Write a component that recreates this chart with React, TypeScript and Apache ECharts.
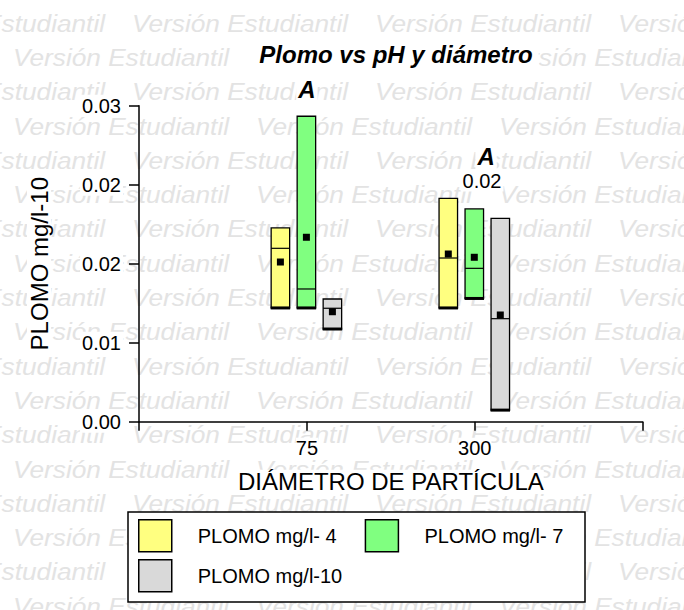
import React, { useEffect, useRef } from "react";
import * as echarts from "echarts";

const diameters = ["75", "300"];
const seriesNames = ["PLOMO mg/l- 4", "PLOMO mg/l- 7", "PLOMO mg/l-10"];
const seriesColors = ["#ffff80", "#80ff80", "#d9d9d9"];
// values per series (pH 4, 7, 10), per diameter (75, 300)
const boxLow = [
  [0.0108, 0.0108],
  [0.0108, 0.0117],
  [0.0088, 0.0011],
];
const boxHigh = [
  [0.0184, 0.0212],
  [0.029, 0.0202],
  [0.01165, 0.0193],
];
const boxMedian = [
  [0.01646, 0.01554],
  [0.0126, 0.01456],
  [0.01077, 0.00978],
];
const boxMean = [
  [0.01516, 0.01592],
  [0.01751, 0.01561],
  [0.01044, 0.01013],
];
const yTickLabels = ["0.00", "0.01", "0.02", "0.02", "0.03"];
const annotationTexts = ["A", "A", "0.02"];
const annotationX = [1, 2.067, 2.043];
const annotationY = [0.0315, 0.02513, 0.02281];

const FONT = "'Liberation Sans', Arial, sans-serif";
const groupOffsets = [-26.5, -0.5, 25.5];
const BOX_W = 18.5;

function buildWatermark() {
  const els: any[] = [];
  for (let k = 0; k < 18; k++) {
    const y = 23 + 34.3 * k;
    const start = k % 2 === 0 ? 132 : 13;
    for (let n = -1; n < 3; n++) {
      els.push({
        type: "text",
        x: start + 243 * n,
        y,
        scaleX: 1.07,
        z: -10,
        silent: true,
        style: {
          text: "Versión Estudiantil",
          fontSize: 24.5,
          fontStyle: "italic",
          fontFamily: FONT,
          fill: "#e3e3e3",
          verticalAlign: "middle",
        },
      });
    }
  }
  return els;
}

export default function App() {
  const ref = useRef<HTMLDivElement>(null);
  useEffect(() => {
    if (!ref.current) return;
    const chart = echarts.init(ref.current, null, { renderer: "svg" });

    const boxSeries = seriesNames.map((name, s) => ({
      name,
      type: "custom",
      itemStyle: { color: seriesColors[s] },
      clip: false,
      z: 3,
      data: diameters.map((_, i) => [i + 1, boxLow[s][i], boxHigh[s][i], boxMedian[s][i], boxMean[s][i]]),
      encode: { x: 0, y: [1, 2, 3, 4] },
      renderItem: (params: any, api: any) => {
        const xv = api.value(0);
        const [cx, yHigh] = api.coord([xv, api.value(2)]);
        const yLow = api.coord([xv, api.value(1)])[1];
        const yMed = api.coord([xv, api.value(3)])[1];
        const yMean = api.coord([xv, api.value(4)])[1];
        const c = cx + groupOffsets[params.seriesIndex];
        const x = c - BOX_W / 2;
        return {
          type: "group",
          children: [
            {
              type: "rect",
              shape: { x, y: yHigh, width: BOX_W, height: yLow - yHigh },
              style: { fill: seriesColors[params.seriesIndex], stroke: "#000", lineWidth: 1.3 },
            },
            {
              type: "line",
              shape: { x1: x, y1: yMed, x2: x + BOX_W, y2: yMed },
              style: { stroke: "#000", lineWidth: 1.2 },
            },
            {
              type: "line",
              shape: { x1: x - 0.5, y1: yLow, x2: x + BOX_W + 0.5, y2: yLow },
              style: { stroke: "#000", lineWidth: 3 },
            },
            {
              type: "rect",
              shape: { x: c - 3.5, y: yMean - 3.5, width: 7, height: 7 },
              style: { fill: "#000" },
            },
          ],
        };
      },
    }));

    const annotationSeries = {
      type: "scatter",
      name: "annotations",
      clip: false,
      silent: true,
      symbolSize: 1,
      itemStyle: { color: "rgba(0,0,0,0)" },
      z: 5,
      data: annotationTexts.map((t, i) => ({
        value: [annotationX[i], annotationY[i]],
        name: t,
        label: {
          show: true,
          position: "inside",
          formatter: t,
          color: "#000",
          opacity: 1,
          fontFamily: FONT,
          fontSize: t === "A" ? 24 : 20,
          fontWeight: t === "A" ? "bold" : "normal",
          fontStyle: t === "A" ? "italic" : "normal",
          backgroundColor: "#fff",
          padding: [0, 2],
        },
      })),
    };

    const option: any = {
      animation: false,
      backgroundColor: "#fff",
      textStyle: { fontFamily: FONT },
      title: {
        text: "Plomo vs pH y diámetro",
        left: 390,
        textAlign: "center",
        top: 40,
        padding: [2, 6],
        backgroundColor: "#fff",
        textStyle: {
          fontFamily: FONT,
          fontSize: 24,
          fontWeight: "bold",
          fontStyle: "italic",
          color: "#000",
        },
      },
      grid: { left: 139, right: 41.3, top: 105.7, bottom: 188.3, containLabel: false },
      xAxis: {
        type: "value",
        min: 0,
        max: 3,
        interval: 1,
        name: "DIÁMETRO DE PARTÍCULA",
        nameLocation: "middle",
        nameGap: 48,
        nameTextStyle: { fontSize: 24, color: "#000", fontFamily: FONT, backgroundColor: "#fff" },
        axisLine: { lineStyle: { color: "#000", width: 1.5 } },
        axisTick: { show: true, length: 9, lineStyle: { color: "#000", width: 1.5 } },
        axisLabel: {
          margin: 16,
          fontSize: 20,
          color: "#000",
          fontFamily: FONT,
          backgroundColor: "#fff",
          formatter: (v: number) => {
            const i = Math.round(v) - 1;
            return i >= 0 && i < diameters.length ? diameters[i] : "";
          },
        },
        splitLine: { show: false },
      },
      yAxis: {
        type: "value",
        min: 0,
        max: 0.03,
        interval: 0.0075,
        name: "PLOMO mg/l-10",
        nameLocation: "middle",
        nameGap: 88,
        nameTextStyle: { fontSize: 24, color: "#000", fontFamily: FONT, backgroundColor: "#fff" },
        axisLine: { show: true, lineStyle: { color: "#000", width: 1.5 } },
        axisTick: { show: true, length: 10, lineStyle: { color: "#000", width: 1.5 } },
        axisLabel: {
          margin: 16,
          fontSize: 20,
          color: "#000",
          fontFamily: FONT,
          backgroundColor: "#fff",
          padding: [1, 2],
          formatter: (_v: number, idx: number) => yTickLabels[idx] ?? "",
        },
        splitLine: { show: false },
      },
      legend: [
        {
          data: [seriesNames[0], seriesNames[1]],
          left: 138,
          top: 519,
          orient: "horizontal",
          icon: "rect",
          itemWidth: 33,
          itemHeight: 32,
          itemGap: 28,
          padding: 0,
          itemStyle: { borderColor: "#000", borderWidth: 1.5 },
          textStyle: { fontSize: 20, color: "#000", fontFamily: FONT, padding: [0, 0, 0, 21] },
          selectedMode: false,
          z: 6,
        },
        {
          data: [seriesNames[2]],
          left: 138,
          top: 559,
          orient: "horizontal",
          icon: "rect",
          itemWidth: 33,
          itemHeight: 32,
          padding: 0,
          itemStyle: { borderColor: "#000", borderWidth: 1.5 },
          textStyle: { fontSize: 20, color: "#000", fontFamily: FONT, padding: [0, 0, 0, 21] },
          selectedMode: false,
          z: 6,
        },
      ],
      graphic: [
        ...buildWatermark(),
        {
          type: "rect",
          z: 1,
          silent: true,
          shape: { x: 128, y: 512, width: 457, height: 90 },
          style: { fill: "#fff", stroke: "#000", lineWidth: 1.5 },
        },
      ],
      series: [...boxSeries, annotationSeries],
    };

    chart.setOption(option);
    return () => chart.dispose();
  }, []);

  return (
    <div
      ref={ref}
      style={{ position: "absolute", left: 0, top: 0, width: 684, height: 610 }}
    />
  );
}
